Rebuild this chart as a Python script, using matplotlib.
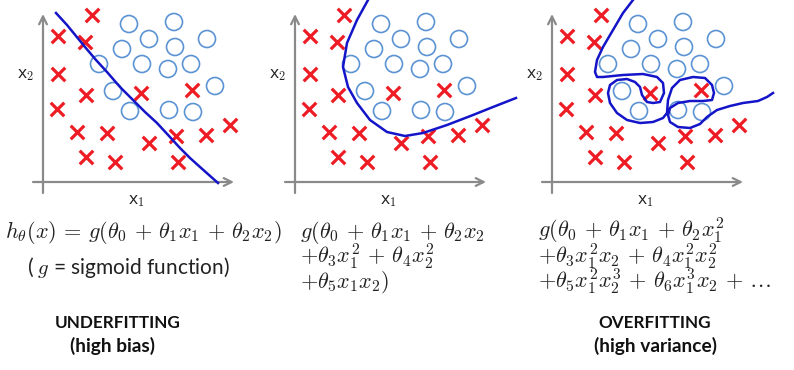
"""Underfitting vs. overfitting: three decision boundaries on the same toy data."""
import matplotlib
matplotlib.use("Agg")
import matplotlib.pyplot as plt

W, H = 794, 370

# toy data set (shared by all three panels), units ~ pixels from the axis origin
cross_x = [49, 15, 42, 15, 43, 14, 98, 149, 34, 64, 106, 133, 163, 187, 43, 72, 135]
cross_y = [167, 146, 140, 108, 87, 73, 89, 92, 50, 49, 39, 46, 47, 57, 25, 20, 20]
circ_x = [86, 131, 106, 164, 79, 132, 56, 99, 125, 148, 70, 172, 87, 126, 150]
circ_y = [158, 160, 143, 143, 133, 135, 118, 118, 113, 118, 91, 96, 71, 72, 70]

# decision boundaries
lin_x = [13, 24, 33, 42, 53, 64, 77, 90, 102, 114, 126, 137, 147, 157, 166, 175]
lin_y = [169, 157, 146, 135, 122, 110, 95, 82, 70, 59, 46, 34, 24, 15, 7, -1]

quad_x = [73, 62, 52, 48, 53, 62, 75, 92, 110, 128, 152, 178, 198, 221]
quad_y = [182, 162, 139, 115, 95, 79, 62, 50, 46, 49, 57, 67, 75, 84]

over_x = [81, 71, 61, 51, 45, 43, 45, 51, 71, 91, 105, 111, 112, 108, 101, 95,
          90, 88, 83, 75, 65, 58, 56, 58, 65, 75, 88, 101, 111, 115, 116, 120,
          128, 141, 153, 160, 162, 160, 151, 138, 126, 118, 116, 118, 126, 138,
          148, 155, 165, 178, 191, 206, 215, 221]
over_y = [182, 169, 152, 135, 122, 110, 105, 105, 107, 108, 105, 99, 89, 80, 79, 80,
          87, 95, 100, 103, 102, 97, 89, 79, 69, 62, 59, 60, 64, 69, 82, 94,
          102, 105, 104, 97, 89, 82, 81, 81, 79, 74, 67, 60, 55, 54,
          58, 65, 72, 76, 79, 81, 85, 89]

origins = [43, 295, 552]   # pixel x of each panel's axis origin

RED = "#ee1c24"
CIRC = "#5b93d3"
LINE = "#1414c8"
GREY = "#8a8a8a"
TXT = "#222222"

plt.rcParams["mathtext.fontset"] = "cm"

fig = plt.figure(figsize=(W / 100, H / 100), dpi=100)
fig.patch.set_facecolor("white")


def px(x, y):
    return x / W, 1 - y / H


curves = [(lin_x, lin_y), (quad_x, quad_y), (over_x, over_y)]
for ox, (bx, by) in zip(origins, curves):
    ax = fig.add_axes([(ox - 43) / W, (H - 200) / H, 252 / W, 200 / H])
    ax.set_xlim(-43, 209)
    ax.set_ylim(-18, 182)
    ax.axis("off")
    ax.annotate("", xy=(191, 0), xytext=(-10, 0),
                arrowprops=dict(arrowstyle="->", color=GREY, lw=1.6, mutation_scale=14,
                                shrinkA=0, shrinkB=0))
    ax.annotate("", xy=(0, 168), xytext=(0, -11),
                arrowprops=dict(arrowstyle="->", color=GREY, lw=1.6, mutation_scale=14,
                                shrinkA=0, shrinkB=0))
    ax.scatter(circ_x, circ_y, s=150, facecolors="none", edgecolors=CIRC, linewidths=1.2,
               zorder=3, clip_on=False)
    ax.scatter(cross_x, cross_y, s=95, marker="x", color=RED, linewidths=2.3,
               zorder=3, clip_on=False)
    ax.plot(bx, by, color=LINE, lw=1.8, solid_joinstyle="round", zorder=4, clip_on=False)
    ax.text(-17, 107, "x$_2$", fontsize=12.5, family="Open Sans", ha="center", va="center",
            color=TXT)
    ax.text(94, -19, "x$_1$", fontsize=12.5, family="Open Sans", ha="center", va="center",
            color=TXT)

fig.text(*px(5, 238), r"$h_\theta(x)\,=\,g(\theta_0\,+\,\theta_1x_1\,+\,\theta_2x_2)$",
         fontsize=16, ha="left", va="baseline", color=TXT)
fig.text(*px(128, 274), r"( $g$ = sigmoid function)", fontsize=15, family="Lato",
         ha="center", va="baseline", color=TXT)

mid = [r"$g(\theta_0\,+\,\theta_1x_1\,+\,\theta_2x_2$",
       r"$+\theta_3x_1^2\,+\,\theta_4x_2^2$",
       r"$+\theta_5x_1x_2)$"]
right = [r"$g(\theta_0\,+\,\theta_1x_1\,+\,\theta_2x_1^2$",
         r"$+\theta_3x_1^2x_2\,+\,\theta_4x_1^2x_2^2$",
         r"$+\theta_5x_1^2x_2^3\,+\,\theta_6x_1^3x_2\,+\,\ldots$"]
for i, (a, b) in enumerate(zip(mid, right)):
    fig.text(*px(300, 238 + 25 * i), a, fontsize=16, ha="left", va="baseline", color=TXT)
    fig.text(*px(538, 238 + 25 * i), b, fontsize=16, ha="left", va="baseline", color=TXT)

fig.text(*px(118, 323), "UNDERFITTING", fontsize=12.3, family="Lato", weight="bold",
         ha="center", va="center", color="#111111")
fig.text(*px(112, 346), "(high bias)", fontsize=13.8, family="Lato", weight="bold",
         ha="center", va="center", color="#111111")
fig.text(*px(655, 323), "OVERFITTING", fontsize=12.3, family="Lato", weight="bold",
         ha="center", va="center", color="#111111")
fig.text(*px(656, 346), "(high variance)", fontsize=13.8, family="Lato", weight="bold",
         ha="center", va="center", color="#111111")

fig.savefig("out.png", dpi=100, facecolor="white")
